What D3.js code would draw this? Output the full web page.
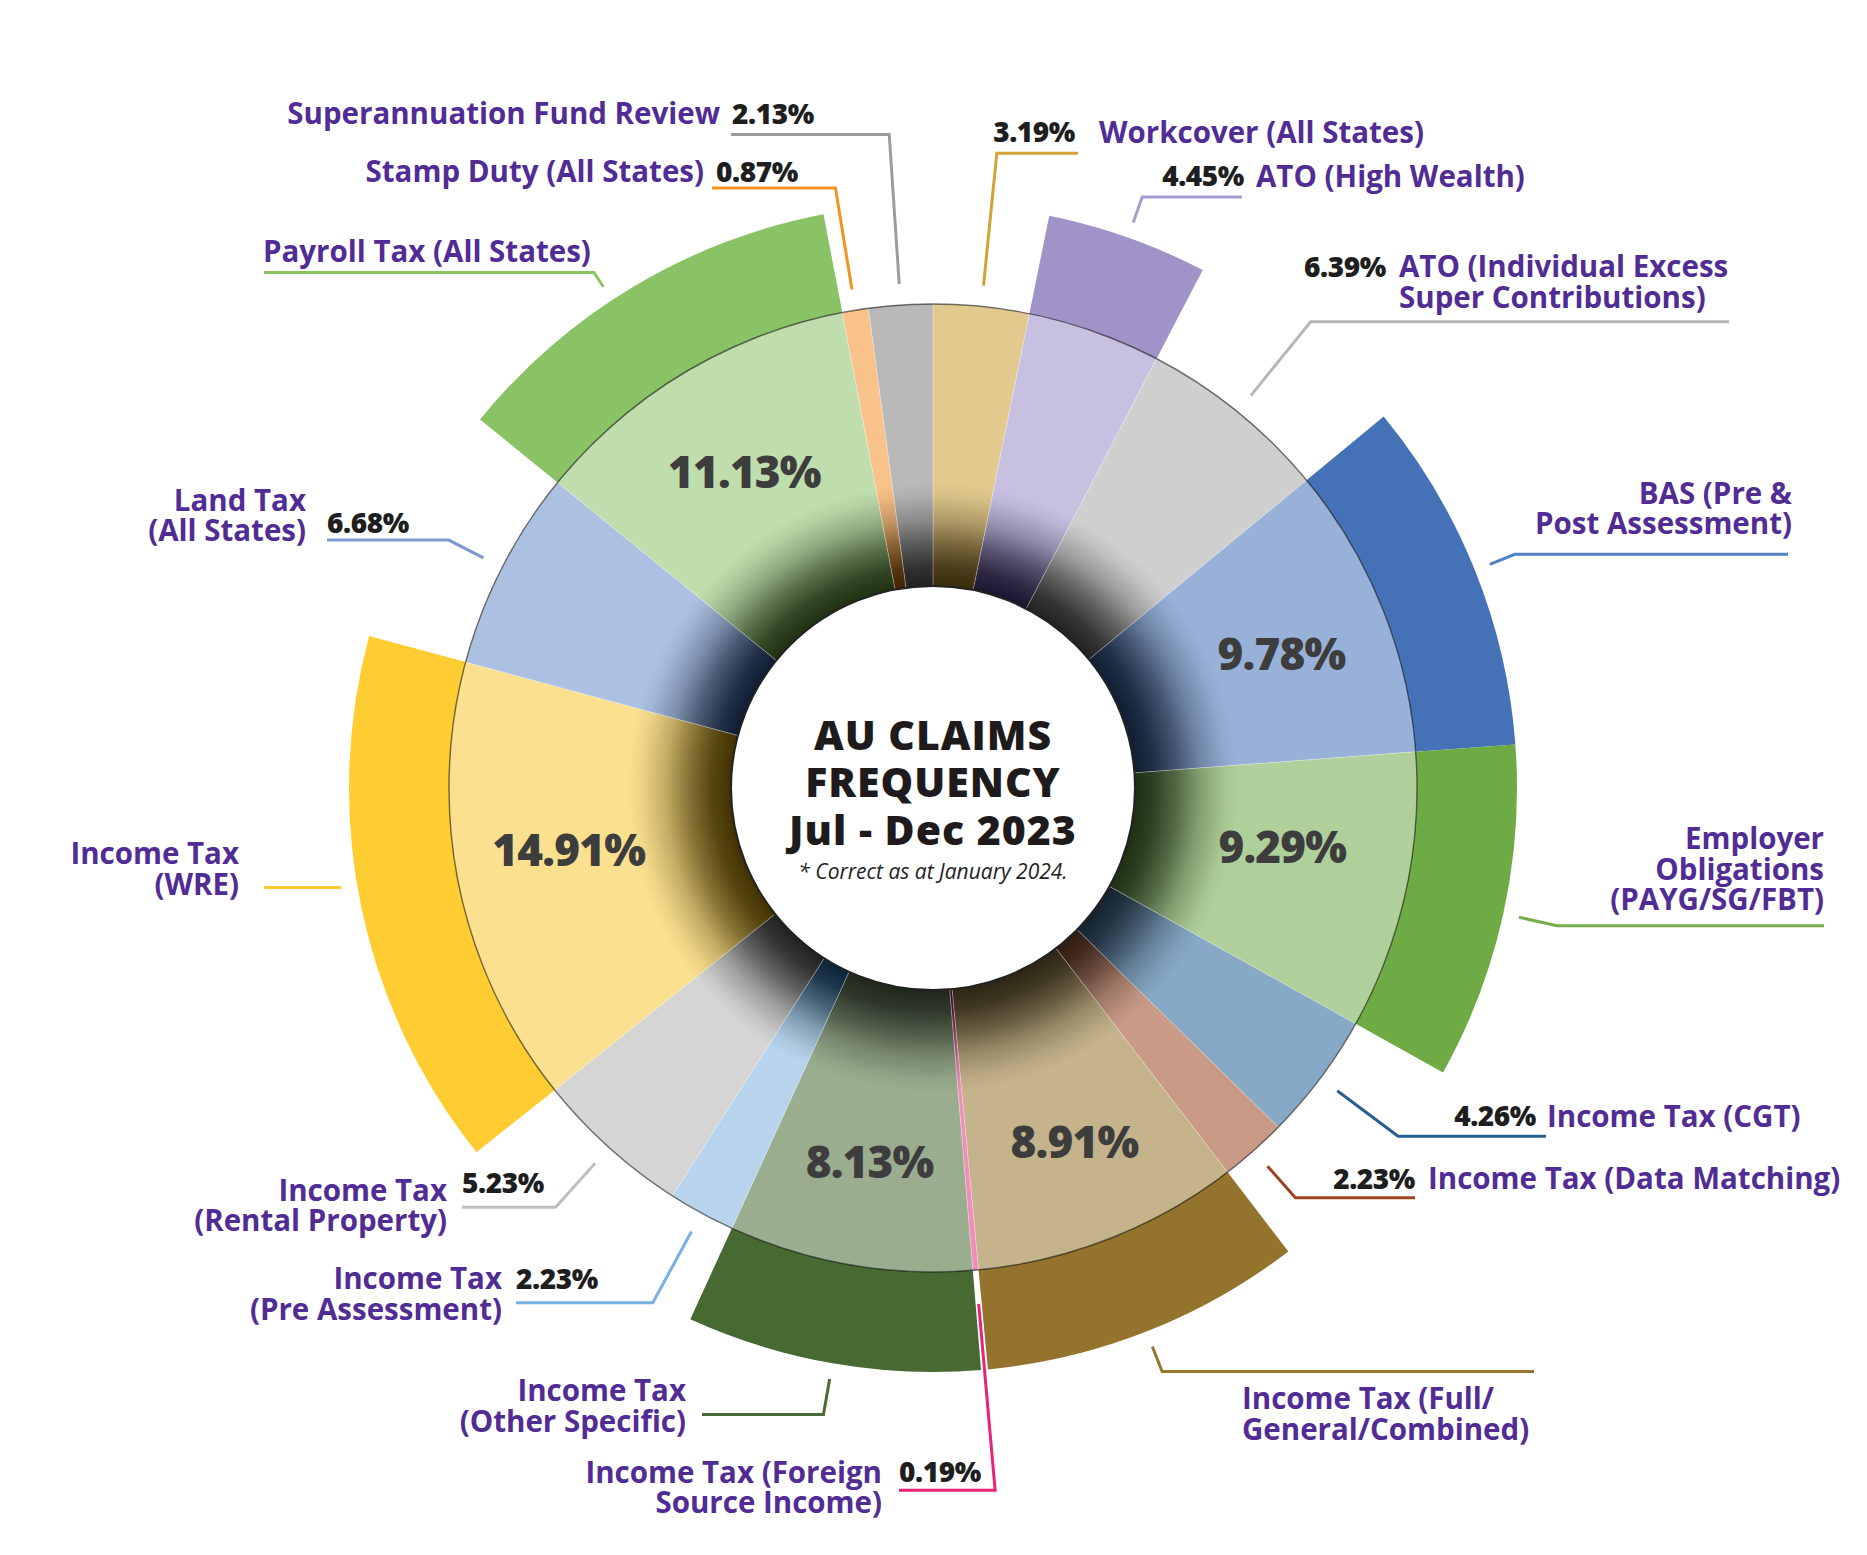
<!DOCTYPE html>
<html>
<head>
<meta charset="utf-8">
<script src="https://cdn.jsdelivr.net/npm/d3@7"></script>
<style>
  body { margin: 0; background: #fff; }
  svg text { font-family: "Open Sans", "Lato", sans-serif; }
</style>
</head>
<body>
<div id="vis_result"></div>
<script>
// claim categories, clockwise from 12 o'clock ("\n" = line break in the label)
var categories = [
  'Workcover (All States)',
  'ATO (High Wealth)',
  'ATO (Individual Excess\nSuper Contributions)',
  'BAS (Pre &\nPost Assessment)',
  'Employer\nObligations\n(PAYG/SG/FBT)',
  'Income Tax (CGT)',
  'Income Tax (Data Matching)',
  'Income Tax (Full/\nGeneral/Combined)',
  'Income Tax (Foreign\nSource Income)',
  'Income Tax\n(Other Specific)',
  'Income Tax\n(Pre Assessment)',
  'Income Tax\n(Rental Property)',
  'Income Tax\n(WRE)',
  'Land Tax\n(All States)',
  'Payroll Tax (All States)',
  'Stamp Duty (All States)',
  'Superannuation Fund Review'
]
// share of claims, percent
var percents = [3.19, 4.45, 6.39, 9.78, 9.29, 4.26, 2.23, 8.91, 0.19, 8.13, 2.23, 5.23, 14.91, 6.68, 11.13, 0.87, 2.13]
// categories drawn with the outer highlight band
var highlighted = ['ATO (High Wealth)', 'BAS (Pre &\nPost Assessment)', 'Employer\nObligations\n(PAYG/SG/FBT)',
  'Income Tax (Full/\nGeneral/Combined)', 'Income Tax\n(Other Specific)', 'Income Tax\n(WRE)', 'Payroll Tax (All States)']

// colours
var lightColors = ['#E2CA8E', '#C7C0E0', '#CFCFCF', '#98B1D8', '#AFD09B', '#88A9C6', '#C99B86', '#C5B38B', '#F28CBB',
  '#9AAE8F', '#B7D4EC', '#D5D5D5', '#FAE08F', '#ACC0E1', '#C0DDAD', '#F8C28A', '#B9B9B9']
var bandColors = ['#9F93C7', '#4571B7', '#6FAB45', '#94742D', '#466A32', '#FFCD32', '#8AC365']
var leaderColors = ['#D2A234', '#A99CCF', '#B7B7B7', '#5381C6', '#72AE4A', '#265F94', '#9C4520', '#97772E', '#E8237A',
  '#4A6B33', '#79B1E2', '#BFBFBF', '#FECC31', '#7C9AD0', '#8BC462', '#F39320', '#9C9C9C']

// label layout: r2 = elbow radius, x2 = end of horizontal leader,
// pct / name = [x, y offset from leader, anchor], da = angle nudge (deg), inside = nudge of inner % label
var labelLayout = [
  { r2: 638, x2: 1078, pct: [1075, -21, 'end'], name: [1099, -21, 'start'] },
  { r2: 627, x2: 1242, pct: [1244, -21, 'end'], name: [1256, -21, 'start'] },
  { r2: 600, x2: 1729, pct: [1304, -55, 'start'], name: [1399, -55, 'start'] },
  { r2: 627, x2: 1788, name: [1792, -61, 'end'], inside: [7, 3] },
  { r2: 639, x2: 1824, name: [1824, -87, 'end'], inside: [-10, -20] },
  { r2: 581, x2: 1546, pct: [1536, -20, 'end'], name: [1547, -20, 'start'] },
  { r2: 547, x2: 1415, pct: [1415, -19, 'end'], name: [1428, -19, 'start'] },
  { r2: 627, x2: 1534, name: [1242, 27, 'start'], inside: [7, 12] },
  { r2: 705, x2: 899, pct: [899, -18, 'start'], name: [882, -18, 'end'], r1: 518 },
  { r2: 636, x2: 702, name: [686, -24, 'end'], inside: [0, 12] },
  { r2: 586, x2: 516, pct: [516, -24, 'start'], name: [502, -24, 'end'] },
  { r2: 564, x2: 462, pct: [462, -24, 'start'], name: [447, -17, 'end'] },
  { r2: null, x2: 264, da: 2.2, name: [239, -34, 'end'], inside: [-4, -13] },
  { r2: 544, x2: 327, pct: [327, -17, 'start'], name: [306, -40, 'end'] },
  { r2: 617, x2: 264, da: -2.5, name: [263, -21, 'start'], inside: [0, 0] },
  { r2: 608, x2: 712, pct: [716, -16, 'start'], name: [704, -16, 'end'] },
  { r2: 655, x2: 731, pct: [732, -21, 'start'], name: [720, -21, 'end'] }
]

var width = 1867, height = 1555
var cx = 933, cy = 788
var rHole = 202, rRing = 484, rBand = 584
var lineHeight = 30.5
var fmt = d3.format('.2f')

var svg = d3.select('#vis_result')
  .append('svg')
  .attr('width', width)
  .attr('height', height)

var g = svg.append('g').attr('transform', `translate(${cx},${cy})`)
var defs = svg.append('defs')

var data = categories.map(function (c, i) { return { name: c, value: percents[i], i: i } })

var pie = d3.pie()
  .sort(null)
  .value(function (d) { return d.value })
var data_ready = pie(data)

// shading towards the centre, one gradient per slice
data_ready.forEach(function (d) {
  var light = lightColors[d.data.i]
  var h = d3.hsl(light)
  var dark = d3.hsl(h.h, Math.min(1, (h.s || 0) * 1.15), 0.13).formatHex()
  var mix = d3.interpolateRgb(dark, light)
  var grad = defs.append('radialGradient')
    .attr('id', 'shade' + d.data.i)
    .attr('gradientUnits', 'userSpaceOnUse')
    .attr('cx', 0).attr('cy', 0).attr('r', rRing)
  var stops = [[202, 0], [222, 0.12], [245, 0.38], [268, 0.7], [292, 0.93], [305, 1]]
  stops.forEach(function (s) {
    grad.append('stop').attr('offset', s[0] / rRing).attr('stop-color', mix(s[1]))
  })
})

var ringArc = d3.arc().innerRadius(rHole - 2).outerRadius(rRing)
var bandArc = d3.arc().innerRadius(rRing).outerRadius(rBand)

g.selectAll('path.ring')
  .data(data_ready)
  .enter()
  .append('path')
  .attr('class', 'ring')
  .attr('d', ringArc)
  .style('fill', function (d) { return 'url(#shade' + d.data.i + ')' })
  .attr('stroke', '#fff')
  .attr('stroke-opacity', 0.35)
  .attr('stroke-width', 0.7)

var bandData = data_ready.filter(function (d) { return highlighted.indexOf(d.data.name) >= 0 })
g.selectAll('path.band')
  .data(bandData)
  .enter()
  .append('path')
  .attr('class', 'band')
  .attr('d', bandArc)
  .style('fill', function (d, k) { return bandColors[k] })

// ring edge
g.append('circle')
  .attr('r', rRing)
  .attr('fill', 'none')
  .attr('stroke', '#000')
  .attr('stroke-opacity', 0.55)
  .attr('stroke-width', 1.4)

// centre disc
g.append('circle')
  .attr('r', rHole)
  .attr('fill', '#fff')
  .attr('stroke', '#222')
  .attr('stroke-width', 2)

// inner percentage labels
data_ready.forEach(function (d) {
  var lay = labelLayout[d.data.i]
  if (!lay.inside) return
  var a = (d.startAngle + d.endAngle) / 2
  var r = 368
  g.append('text')
    .attr('x', r * Math.sin(a) + lay.inside[0])
    .attr('y', -r * Math.cos(a) + lay.inside[1])
    .attr('dy', '0.36em')
    .attr('text-anchor', 'middle')
    .style('font-size', '44px')
    .style('font-weight', 800)
    .style('letter-spacing', '-0.8px')
    .style('fill', '#3D3D3D')
    .text(fmt(d.data.value) + '%')
})

// leaders and outer labels
var labels = svg.append('g')
data_ready.forEach(function (d) {
  var i = d.data.i
  var lay = labelLayout[i]
  var hasBand = highlighted.indexOf(d.data.name) >= 0
  var a = (d.startAngle + d.endAngle) / 2 + (lay.da || 0) * Math.PI / 180
  var r1 = lay.r1 || (hasBand ? rBand + 16 : rRing + 21)
  var r2 = lay.r2 || r1
  var p1 = [cx + r1 * Math.sin(a), cy - r1 * Math.cos(a)]
  var p2 = [cx + r2 * Math.sin(a), cy - r2 * Math.cos(a)]
  var ly = p2[1]

  labels.append('path')
    .attr('d', d3.line()([p1, p2, [lay.x2, ly]]))
    .attr('fill', 'none')
    .attr('stroke', leaderColors[i])
    .attr('stroke-width', 3)

  if (lay.pct) {
    labels.append('text')
      .attr('x', lay.pct[0])
      .attr('y', ly + lay.pct[1])
      .attr('dy', '0.36em')
      .attr('text-anchor', lay.pct[2])
      .style('font-size', '28px')
      .style('font-weight', 800)
      .style('letter-spacing', '-0.4px')
      .style('fill', '#1E1E1E')
      .text(fmt(d.data.value) + '%')
  }

  // one text per label line
  d.data.name.split('\n').forEach(function (line, k) {
    labels.append('text')
      .attr('x', lay.name[0])
      .attr('y', ly + lay.name[1] + k * lineHeight)
      .attr('dy', '0.36em')
      .attr('text-anchor', lay.name[2])
      .style('font-size', '29.5px')
      .style('font-weight', 700)
      .style('fill', '#512C94')
      .text(line)
  })
})

// title in the centre
var title = ['AU CLAIMS', 'FREQUENCY', 'Jul - Dec 2023']
title.forEach(function (s, k) {
  g.append('text')
    .attr('x', 0)
    .attr('y', -53 + k * 47.5)
    .attr('dy', '0.36em')
    .attr('text-anchor', 'middle')
    .style('font-size', '41px')
    .style('font-weight', 800)
    .style('letter-spacing', '1px')
    .style('fill', '#1F1B1C')
    .text(s)
})
g.append('text')
  .attr('x', 0)
  .attr('y', 83)
  .attr('dy', '0.36em')
  .attr('text-anchor', 'middle')
  .style('font-size', '21px')
  .style('font-style', 'italic')
  .style('font-weight', 400)
  .style('fill', '#222')
  .text('* Correct as at January 2024.')
</script>
</body>
</html>
